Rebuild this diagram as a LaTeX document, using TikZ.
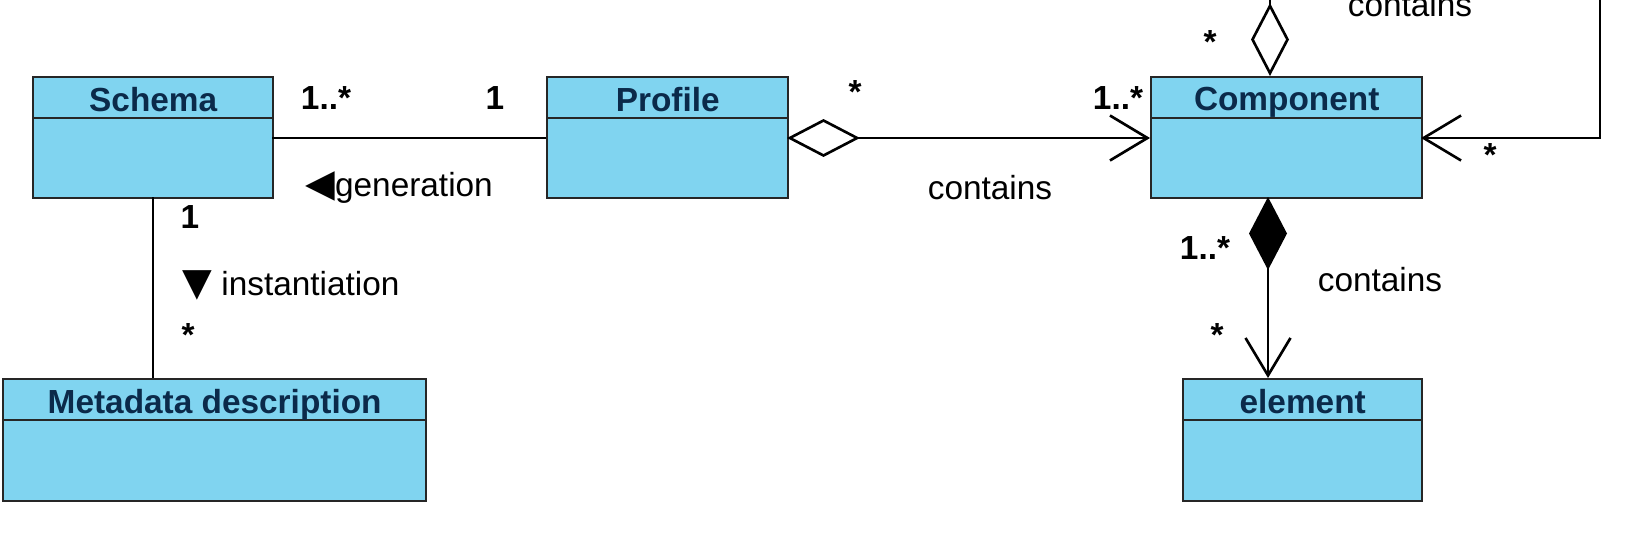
\documentclass[tikz,border=0pt]{standalone}
\usepackage{fontspec}
\setmainfont{Liberation Sans}
\newfontfamily\symf{DejaVu Sans}
\usetikzlibrary{arrows.meta}
\definecolor{cfill}{HTML}{80D4F0}
\definecolor{ctext}{HTML}{0B2A4A}
\tikzset{
  cls/.style={draw=black!85, fill=cfill, line width=1.4pt, anchor=north west, inner sep=0pt},
  title/.style={anchor=north, font=\fontsize{19}{22}\selectfont\bfseries, text=ctext, inner sep=0pt, yshift=-0.22cm},
  lbl/.style={font=\fontsize{19}{22}\selectfont, inner sep=0pt},
  blbl/.style={font=\fontsize{19}{22}\selectfont\bfseries, inner sep=0pt},
  ln/.style={line width=1.5pt},
  odia/.tip={Diamond[open,length=1.46cm,width=0.76cm,line width=1.5pt]},
  fdia/.tip={Diamond[length=1.46cm,width=0.76cm]},
  barb/.tip={Straight Barb[length=0.75cm,width=0.9cm,line width=1.5pt]}
}
\begin{document}
\begin{tikzpicture}[x=0.02cm,y=-0.02cm]
\useasboundingbox (0,0) rectangle (1627,554);
\clip (0,0) rectangle (1627,554);
\fill[white] (0,0) rectangle (1627,554);
% classes
\node[cls, minimum width=4.8cm, minimum height=2.42cm] (schema) at (32,76) {};
\node[cls, minimum width=4.82cm, minimum height=2.42cm] (profile) at (546,76) {};
\node[cls, minimum width=5.42cm, minimum height=2.42cm] (comp) at (1150,76) {};
\node[cls, minimum width=8.46cm, minimum height=2.44cm] (meta) at (2,378) {};
\node[cls, minimum width=4.78cm, minimum height=2.44cm] (elem) at (1182,378) {};
\foreach \n in {schema,profile,comp,meta,elem}{
  \draw[ln, draw=black!85] ([yshift=-0.84cm]\n.north west) -- ([yshift=-0.84cm]\n.north east);
}
\node[title] (tschema) at (schema.north) {Schema};
\node[title] (tprofile) at (profile.north) {Profile};
\node[title] (tcomp) at (comp.north) {Component};
\node[title] (tmeta) at (meta.north) {Metadata description};
\node[title] (telem) at (elem.north) {element};
% Schema - Profile
\coordinate (sp1) at (272,138);
\coordinate (sp2) at (546,138);
\draw[ln] (sp1) -- (sp2);
\node[blbl] (l1) at (326,98) {1..*};
\node[blbl] (l2) at (495,98) {1};
\node[lbl, anchor=west] (gen) at (305,188) {{\symf\fontsize{22}{22}\selectfont ◀}generation};
% Schema - Metadata
\coordinate (sm1) at (153,197);
\coordinate (sm2) at (153,378);
\draw[ln] (sm1) -- (sm2);
\node[blbl] (l3) at (190,217) {1};
\node[lbl, anchor=west] (inst) at (182,285) {{\symf\fontsize{22}{22}\selectfont ▼} instantiation};
\node[blbl] (l4) at (188,335) {*};
% Profile - Component
\coordinate (pc1) at (787,138);
\coordinate (pc2) at (1150,138);
\draw[ln, odia-barb] (pc1) -- (pc2);
\node[blbl] (l5) at (855,92) {*};
\node[blbl] (l6) at (1118,98) {1..*};
\node[lbl] (c1) at (990,188) {contains};
% Component - element
\coordinate (ce1) at (1268,197);
\coordinate (ce2) at (1268,378);
\draw[ln, fdia-barb] (ce1) -- (ce2);
\node[blbl] (l7) at (1205,248) {1..*};
\node[lbl] (c2) at (1380,280) {contains};
\node[blbl] (l8) at (1217,335) {*};
% self loop
\coordinate (ct) at (1270,76);
\coordinate (cup) at (1270,-30);
\coordinate (cr) at (1600,-30);
\coordinate (cin) at (1421,138);
\draw[ln, odia-barb] (ct) -- (cup) -- (cr) |- (cin);
\node[blbl] (l9) at (1210,42) {*};
\node[lbl] (c3) at (1410,5) {contains};
\node[blbl] (l10) at (1490,155) {*};
\end{tikzpicture}
\end{document}
